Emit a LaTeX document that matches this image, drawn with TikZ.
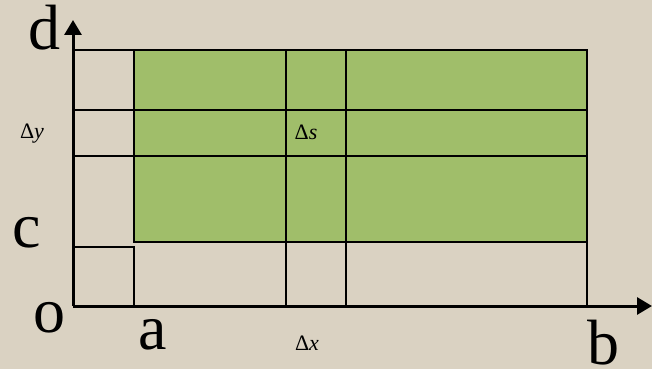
\documentclass[tikz,border=0pt]{standalone}
\usepackage{fontspec}
\setmainfont{Liberation Serif}
\usetikzlibrary{arrows.meta}
\definecolor{paper}{RGB}{218,210,194}
\definecolor{field}{RGB}{160,190,106}
\begin{document}
\begin{tikzpicture}[x=0.5pt,y=-0.5pt,
  grid line/.style={line width=1pt},
  axis line/.style={line width=1.5pt,-{Triangle[length=7.5pt,width=8.5pt]}},
  big label/.style={font=\fontsize{32}{32}\selectfont,anchor=base,inner sep=0pt},
  small label/.style={font=\fontsize{11}{11}\selectfont,anchor=base,inner sep=0pt}]
  \fill[paper] (0,0) rectangle (652,369);
  \useasboundingbox (0,0) rectangle (652,369);

  % corner points
  \coordinate (O) at (73,306);
  \coordinate (ytip) at (73,20);
  \coordinate (xtip) at (652,306);

  % the region
  \fill[field] (134,50) rectangle (587,242);
  \draw[grid line] (134,50) rectangle (587,242);

  % strips
  \draw[grid line] (73,50) -- (587,50);
  \draw[grid line] (73,110) -- (587,110);
  \draw[grid line] (73,156) -- (587,156);
  \draw[grid line] (286,50) -- (286,306);
  \draw[grid line] (346,50) -- (346,306);
  \draw[grid line] (587,50) -- (587,306);
  \draw[grid line] (73,247) -- (134,247) -- (134,306);

  % axes
  \draw[axis line] (O) -- (ytip);
  \draw[axis line] (O) -- (xtip);

  % labels
  \node[big label] (d) at (44,50) {d};
  \node[big label] (c) at (27,247) {c};
  \node[big label] (o) at (49,332) {o};
  \node[big label] (a) at (153,349) {a};
  \node[big label] (b) at (603,364) {b};
  \node[small label] (dy) at (32,138) {Δ\textit{y}};
  \node[small label] (ds) at (306,139) {Δ\textit{s}};
  \node[small label] (dx) at (307,350) {Δ\textit{x}};
\end{tikzpicture}
\end{document}
